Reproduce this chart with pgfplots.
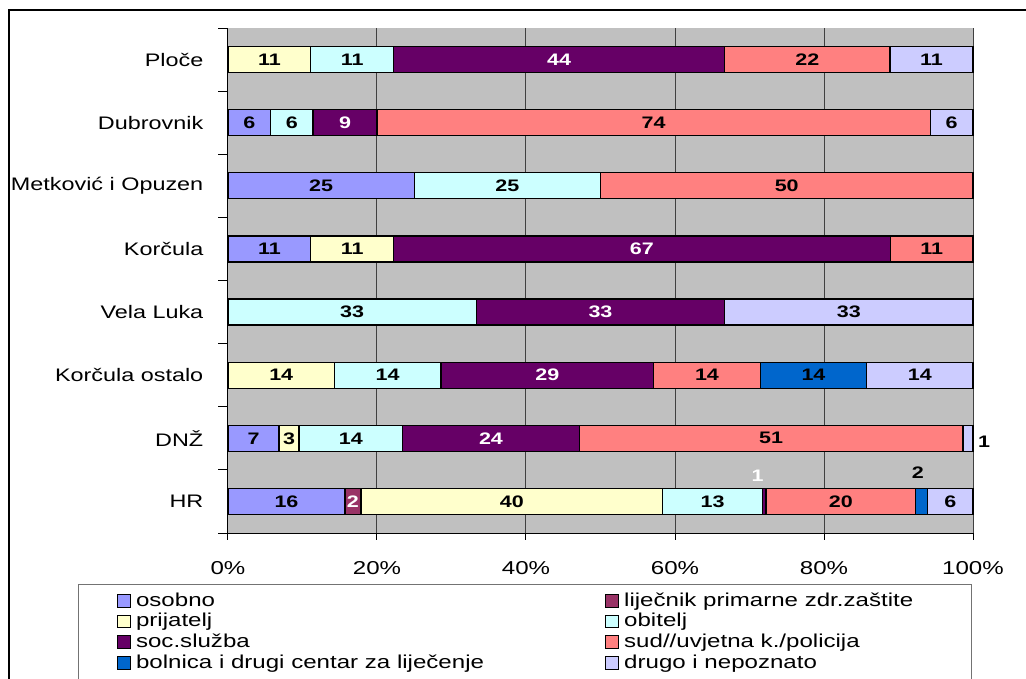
\documentclass[border=0pt]{standalone}
\usepackage{fontspec}
\setmainfont{Liberation Sans}[FakeStretch=1.29]
\usepackage{pgfplots}
\pgfplotsset{compat=1.18}

\definecolor{cOsobno}{HTML}{9999FF}
\definecolor{cLij}{HTML}{993366}
\definecolor{cPrij}{HTML}{FFFFCC}
\definecolor{cObit}{HTML}{CCFFFF}
\definecolor{cSoc}{HTML}{660066}
\definecolor{cSud}{HTML}{FF8080}
\definecolor{cBol}{HTML}{0066CC}
\definecolor{cDrugo}{HTML}{CCCCFF}
\definecolor{plotbg}{HTML}{C0C0C0}

\pgfplotsset{
  seg/.style={fill=#1, draw=black, line width=1pt},
  darklab/.style={every node near coord/.append style={text=black}},
  lightlab/.style={every node near coord/.append style={text=white}},
}

\begin{document}
\begin{tikzpicture}
\useasboundingbox (0,0) rectangle (769.5pt,509.25pt);
% outer frame and legend frame
\draw[line width=1.5pt] (6.75pt,-5pt) -- (6.75pt,501.4pt) -- (780pt,501.4pt);
\draw[line width=0.75pt, black!55] (58.5pt,-5pt) -- (58.5pt,70.5pt) -- (728.25pt,70.5pt) -- (728.25pt,-5pt);

\begin{axis}[
    at={(171pt,109.5pt)}, anchor=south west,
    scale only axis,
    width=558.75pt, height=378.75pt,
    xbar stacked,
    bar width=19.5pt,
    xmin=0, xmax=100,
    ymin=-0.5, ymax=7.5,
    enlargelimits=false,
    clip=false,
    axis background/.style={fill=plotbg},
    axis lines*=left,
    axis line style={line width=0.75pt},
    tick align=outside,
    xtick={0,20,...,100},
    xticklabels={0\%,20\%,40\%,60\%,80\%,100\%},
    ytick={0,...,7},
    yticklabels={HR, DNŽ, Korčula ostalo, Vela Luka, Korčula, Metković i Opuzen, Dubrovnik, Ploče},
    minor ytick={-0.5,0.5,...,7.5},
    major tick length=5pt,
    minor tick length=7.5pt,
    major y tick style={draw=none},
    minor y tick style={black, line width=0.75pt},
    major x tick style={black, line width=0.75pt},
    xmajorgrids,
    grid style={line width=0.75pt, black!75},
    xticklabel style={font=\fontsize{14}{14}\selectfont, yshift=-12.5pt},
    yticklabel style={font=\fontsize{13.6}{14}\selectfont, xshift=-10pt},
    point meta=explicit symbolic,
    nodes near coords,
    nodes near coords align={center},
    every node near coord/.append style={
      font=\fontsize{12.5}{12.5}\selectfont\bfseries, anchor=center, inner sep=0pt},
    legend columns=2,
    legend cell align=left,
    legend image code/.code={\draw[#1, line width=0.6pt] (0pt,-4.5pt) rectangle (9.5pt,5pt);},
    legend style={at={(axis description cs:-0.149,-0.1137)}, anchor=north west,
      draw=none, fill=none, inner sep=0pt,
      font=\fontsize{14}{15}\selectfont,
      nodes={inner sep=1pt, text height=10.5pt, text depth=3pt},
      /tikz/every odd column/.append style={column sep=3pt},
      /tikz/every even column/.append style={column sep=90pt}},
]
% rows: 0 HR, 1 DNZ, 2 Korcula ostalo, 3 Vela Luka, 4 Korcula, 5 Metkovic i Opuzen, 6 Dubrovnik, 7 Ploce
\addplot[seg=cOsobno, darklab] coordinates {
  (15.7,0) [16] (6.85,1) [7] (0,2) [{}] (0,3) [{}] (11.11,4) [11] (25,5) [25] (5.71,6) [6] (0,7) [{}]};
\addplot[seg=cLij, lightlab] coordinates {
  (2.15,0) [2] (0,1) [{}] (0,2) [{}] (0,3) [{}] (0,4) [{}] (0,5) [{}] (0,6) [{}] (0,7) [{}]};
\addplot[seg=cPrij, darklab] coordinates {
  (40.5,0) [40] (2.7,1) [3] (14.29,2) [14] (0,3) [{}] (11.11,4) [11] (0,5) [{}] (0,6) [{}] (11.11,7) [11]};
\addplot[seg=cObit, darklab] coordinates {
  (13.4,0) [13] (13.9,1) [14] (14.29,2) [14] (33.33,3) [33] (0,4) [{}] (25,5) [25] (5.71,6) [6] (11.11,7) [11]};
\addplot[seg=cSoc, lightlab] coordinates {
  (0.45,0) [{}] (23.7,1) [24] (28.57,2) [29] (33.33,3) [33] (66.67,4) [67] (0,5) [{}] (8.57,6) [9] (44.44,7) [44]};
\addplot[seg=cSud, darklab] coordinates {
  (20.1,0) [20] (51.5,1) [51] (14.29,2) [14] (0,3) [{}] (11.11,4) [11] (50,5) [50] (74.29,6) [74] (22.22,7) [22]};
\addplot[seg=cBol, darklab] coordinates {
  (1.6,0) [{}] (0,1) [{}] (14.29,2) [14] (0,3) [{}] (0,4) [{}] (0,5) [{}] (0,6) [{}] (0,7) [{}]};
\addplot[seg=cDrugo, darklab] coordinates {
  (6.1,0) [6] (1.35,1) [{}] (14.29,2) [14] (33.34,3) [33] (0,4) [{}] (0,5) [{}] (5.71,6) [6] (11.12,7) [11]};
\legend{osobno, liječnik primarne zdr.zaštite, prijatelj, obitelj, soc.služba, sud//uvjetna k./policija, bolnica i drugi centar za liječenje, drugo i nepoznato}
% labels of the thin segments, set beside them
\node[font=\fontsize{12.5}{12.5}\selectfont\bfseries, text=black] at (axis cs:101.5,0.95) {1};
\node[font=\fontsize{12.5}{12.5}\selectfont\bfseries, text=white] at (axis cs:71.1,0.40) {1};
\node[font=\fontsize{12.5}{12.5}\selectfont\bfseries, text=black] at (axis cs:92.6,0.46) {2};
\node[font=\fontsize{12.5}{12.5}\selectfont, text=white, draw=none] at (axis cs:0,7) {0};
\end{axis}
\end{tikzpicture}
\end{document}
